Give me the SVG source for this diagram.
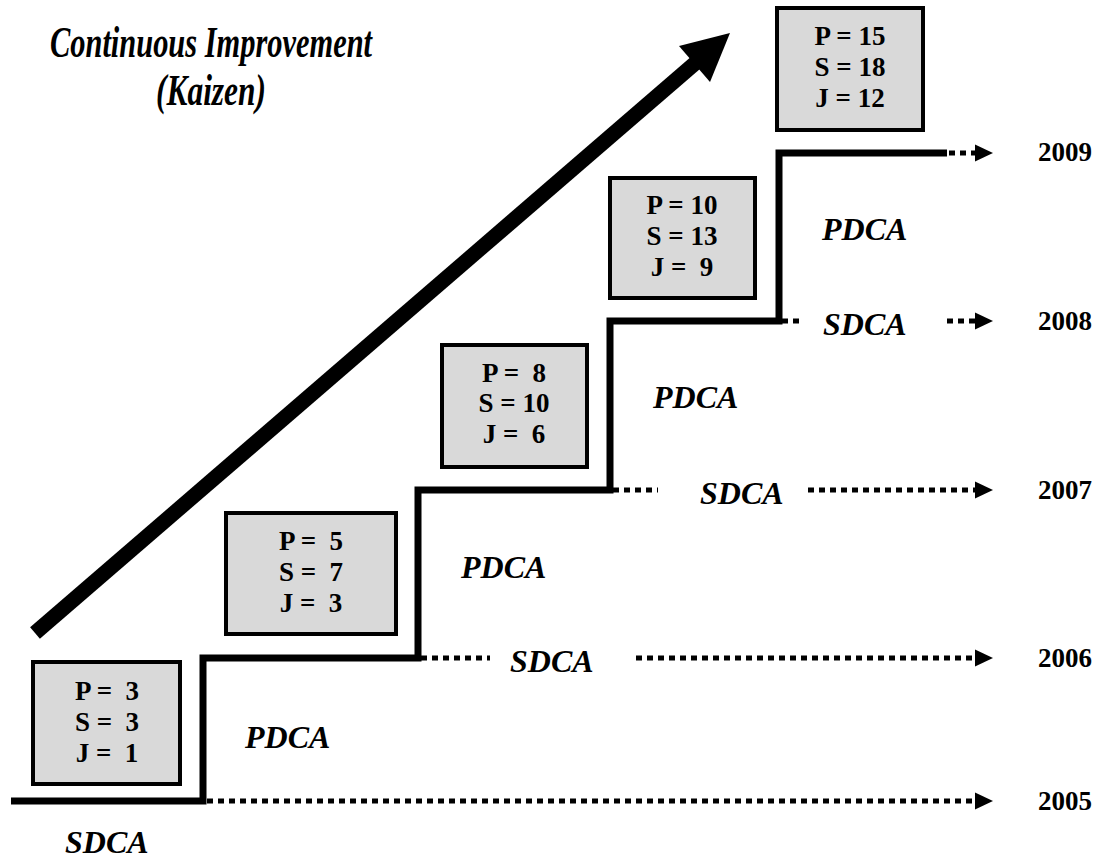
<svg xmlns="http://www.w3.org/2000/svg" width="1102" height="861" viewBox="0 0 1102 861">
<style>
.box{fill:#d9d9d9;stroke:#000;stroke-width:4}
.bt{font-family:"Liberation Serif",serif;font-weight:bold;font-size:27px;text-anchor:middle}
.lbl{font-family:"Liberation Serif",serif;font-weight:bold;font-style:italic;font-size:32px}
.yr{font-family:"Liberation Serif",serif;font-weight:bold;font-size:27px}
.title{font-family:"Liberation Serif",serif;font-weight:bold;font-style:italic;font-size:45px;text-anchor:middle}
.stair{fill:none;stroke:#000;stroke-width:7;stroke-linejoin:miter}
.dot{fill:none;stroke:#000;stroke-width:5;stroke-dasharray:6 5}
</style>
<defs>
<marker id="ah" markerWidth="18" markerHeight="18" refX="0" refY="0" viewBox="0 -9 18 18" markerUnits="userSpaceOnUse" orient="auto">
<path d="M0,-8.5 L18,0 L0,8.5 Z" fill="#000"/>
</marker>
</defs>
<rect width="1102" height="861" fill="#fff"/>

<g id="title">
<text class="title" x="211" y="57" textLength="322" lengthAdjust="spacingAndGlyphs">Continuous Improvement</text>
<text class="title" x="211" y="105" textLength="110" lengthAdjust="spacingAndGlyphs">(Kaizen)</text>
</g>

<g id="kaizen-arrow">
<line x1="35" y1="633" x2="700" y2="59" stroke="#000" stroke-width="15"/>
<polygon points="730,33 710,82 679,46" fill="#000"/>
</g>

<g id="connectors">
<path class="stair" d="M11 801 H203 V658 H418 V490 H610 V321 H779 V153 H947"/>
<line class="dot" x1="207" y1="801" x2="975" y2="801" marker-end="url(#ah)"/>
<line class="dot" x1="421" y1="658" x2="490" y2="658"/>
<line class="dot" x1="636" y1="658" x2="975" y2="658" marker-end="url(#ah)"/>
<line class="dot" x1="613" y1="490" x2="658" y2="490"/>
<line class="dot" x1="808" y1="490" x2="975" y2="490" marker-end="url(#ah)"/>
<line class="dot" x1="782" y1="321" x2="802" y2="321"/>
<line class="dot" x1="947" y1="321" x2="975" y2="321" marker-end="url(#ah)"/>
<line class="dot" x1="949" y1="153" x2="975" y2="153" marker-end="url(#ah)"/>
</g>

<g id="box-2005">
<rect class="box" x="33" y="662" width="147" height="122"/>
<text class="bt" x="107" y="700" xml:space="preserve">P =  3</text>
<text class="bt" x="107" y="731" xml:space="preserve">S =  3</text>
<text class="bt" x="107" y="762" xml:space="preserve">J =  1</text>
</g>
<g id="box-2006">
<rect class="box" x="226" y="513" width="170" height="121"/>
<text class="bt" x="311" y="550" xml:space="preserve">P =  5</text>
<text class="bt" x="311" y="581" xml:space="preserve">S =  7</text>
<text class="bt" x="311" y="612" xml:space="preserve">J =  3</text>
</g>
<g id="box-2007">
<rect class="box" x="442" y="345" width="145" height="122"/>
<text class="bt" x="514" y="382" xml:space="preserve">P =  8</text>
<text class="bt" x="514" y="412" xml:space="preserve">S = 10</text>
<text class="bt" x="514" y="443" xml:space="preserve">J =  6</text>
</g>
<g id="box-2008">
<rect class="box" x="610" y="178" width="145" height="120"/>
<text class="bt" x="682" y="214" xml:space="preserve">P = 10</text>
<text class="bt" x="682" y="245" xml:space="preserve">S = 13</text>
<text class="bt" x="682" y="276" xml:space="preserve">J =  9</text>
</g>
<g id="box-2009">
<rect class="box" x="777" y="8" width="146" height="122"/>
<text class="bt" x="850" y="45" xml:space="preserve">P = 15</text>
<text class="bt" x="850" y="76" xml:space="preserve">S = 18</text>
<text class="bt" x="850" y="107" xml:space="preserve">J = 12</text>
</g>

<g id="labels">
<text class="lbl" x="245" y="748">PDCA</text>
<text class="lbl" x="461" y="578">PDCA</text>
<text class="lbl" x="653" y="408">PDCA</text>
<text class="lbl" x="822" y="240">PDCA</text>
<text class="lbl" x="65" y="853">SDCA</text>
<text class="lbl" x="510" y="672">SDCA</text>
<text class="lbl" x="700" y="504">SDCA</text>
<text class="lbl" x="823" y="335">SDCA</text>
</g>

<g id="years">
<text class="yr" x="1038" y="161">2009</text>
<text class="yr" x="1038" y="330">2008</text>
<text class="yr" x="1038" y="499">2007</text>
<text class="yr" x="1038" y="667">2006</text>
<text class="yr" x="1038" y="810">2005</text>
</g>
</svg>
